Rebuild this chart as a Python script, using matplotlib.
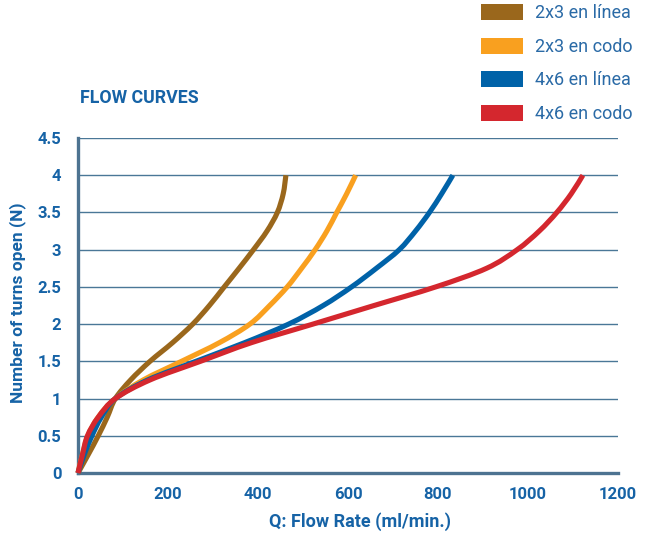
import matplotlib
matplotlib.use("Agg")
import matplotlib.pyplot as plt
from matplotlib.patches import Patch, PathPatch
from matplotlib.path import Path

plt.rcParams['font.family'] = ['Roboto', 'DejaVu Sans']

# Data (turns open N vs flow rate Q in ml/min)
turns = [0, 0.25, 0.5, 0.75, 1, 1.25, 1.5, 1.75, 2, 2.25, 2.5, 2.75, 3, 3.25, 3.5, 3.75, 4]
q_2x3_linea = [0, 23, 45, 65, 83, 117, 160, 210, 255, 292, 325, 358, 390, 420, 443, 456, 462]
q_2x3_codo = [0, 10, 22, 45, 83, 145, 230, 314, 382, 426, 465, 497, 527, 553, 575, 597, 617]
q_4x6_linea = [0, 14, 31, 52, 83, 155, 262, 370, 468, 545, 608, 663, 714, 750, 781, 808, 833]
q_4x6_codo = [0, 10, 21, 45, 83, 160, 272, 385, 522, 658, 795, 908, 976, 1025, 1064, 1096, 1122]

labels = ["2x3 en línea", "2x3 en codo", "4x6 en línea", "4x6 en codo"]
colors = ["#9a671c", "#f9a01f", "#0062a8", "#d4272e"]
x_ticks = [0, 200, 400, 600, 800, 1000, 1200]
y_ticks = [0, 0.5, 1, 1.5, 2, 2.5, 3, 3.5, 4, 4.5]
y_tick_labels = ["0", "0.5", "1", "1.5", "2", "2.5", "3", "3.5", "4", "4.5"]


def smooth_path(xs, ys):
    """Cubic Bezier path passing through every data point (Catmull-Rom)."""
    pts = list(zip(xs, ys))
    n = len(pts)
    verts = [pts[0]]
    codes = [Path.MOVETO]
    for i in range(n - 1):
        p0 = pts[max(i - 1, 0)]
        p1 = pts[i]
        p2 = pts[i + 1]
        p3 = pts[min(i + 2, n - 1)]
        c1 = (p1[0] + (p2[0] - p0[0]) / 6, p1[1] + (p2[1] - p0[1]) / 6)
        c2 = (p2[0] - (p3[0] - p1[0]) / 6, p2[1] - (p3[1] - p1[1]) / 6)
        verts += [c1, c2, p2]
        codes += [Path.CURVE4, Path.CURVE4, Path.CURVE4]
    return Path(verts, codes)


blue_text = "#1663a6"
W, H = 648, 535
fig = plt.figure(figsize=(W / 100, H / 100), dpi=100)
ax = fig.add_axes([78 / W, 1 - 473 / H, (618 - 78) / W, (473 - 138) / H])

series = [q_2x3_linea, q_2x3_codo, q_4x6_linea, q_4x6_codo]
order = [0, 2, 1, 3]
for i in order:
    pp = PathPatch(smooth_path(series[i], turns), facecolor='none', edgecolor=colors[i],
                   lw=3.7, capstyle='butt', joinstyle='round', clip_on=False, zorder=3 + i)
    ax.add_patch(pp)

ax.set_xlim(0, 1200)
ax.set_ylim(0, 4.5)
ax.set_xticks(x_ticks)
ax.set_yticks(y_ticks)
ax.set_yticklabels(y_tick_labels)
ax.yaxis.grid(True, color="#4a7797", lw=1.0)
ax.set_axisbelow(True)
for s in ["top", "right"]:
    ax.spines[s].set_visible(False)
for s in ["left", "bottom"]:
    ax.spines[s].set_color("#4d7391")
    ax.spines[s].set_linewidth(2.4)
    ax.spines[s].set_zorder(2.5)
ax.tick_params(axis='both', length=0, labelcolor=blue_text, labelsize=12)
ax.tick_params(axis='y', pad=12)
ax.tick_params(axis='x', pad=10)
for t in ax.get_xticklabels() + ax.get_yticklabels():
    t.set_fontweight('bold')

fig.text(360 / W, 1 - 522 / H, "Q: Flow Rate (ml/min.)", ha='center', va='center',
         color=blue_text, fontsize=13, fontweight='bold')
fig.text(18 / W, 1 - 303 / H, "Number of turns open (N)", ha='center', va='center',
         rotation=90, color=blue_text, fontsize=12.5, fontweight='bold')
fig.text(80 / W, 1 - 98 / H, "FLOW CURVES", ha='left', va='center',
         color=blue_text, fontsize=12.8, fontweight='bold')

handles = [Patch(facecolor=c, edgecolor='none') for c in colors]
leg = fig.legend(handles, labels, loc='upper left', bbox_to_anchor=(481 / W, 1 - 4 / H),
                 frameon=False, fontsize=13, handlelength=2.3, handleheight=1.0,
                 labelspacing=0.85, handletextpad=0.7, borderpad=0, borderaxespad=0)
for t in leg.get_texts():
    t.set_color("#2a6aa6")

fig.savefig("out.png", dpi=100)
